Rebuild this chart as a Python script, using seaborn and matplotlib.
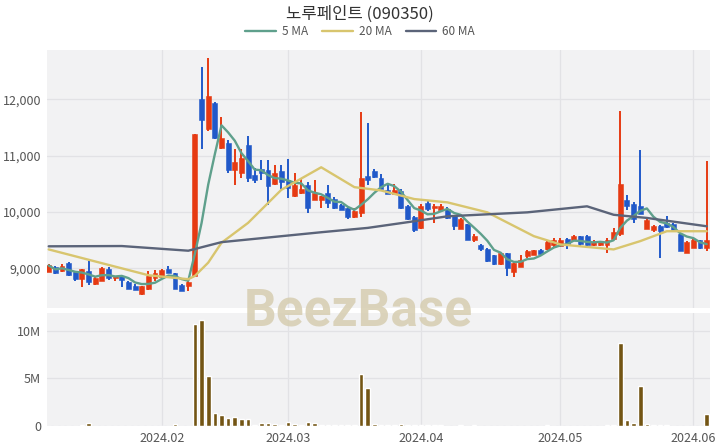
import pandas as pd
import numpy as np
import matplotlib
matplotlib.use('Agg')
import matplotlib.pyplot as plt
import seaborn as sns

# 거래일 (2024-01-09 ~ 2024-06-05, 휴장일 제외)
holidays = ['2024-02-09', '2024-02-12', '2024-03-01', '2024-04-10',
            '2024-05-01', '2024-05-06', '2024-05-15']
dates = pd.bdate_range('2024-01-09', '2024-06-05')
dates = dates[~dates.isin(pd.to_datetime(holidays))]

# 일봉 (시가, 고가, 저가, 종가)
opens = [8940, 9030, 8950, 9100, 8940, 8810, 8950, 8720, 8780, 8990,
         8820, 8860, 8750, 8690, 8540, 8630, 8820, 8840, 8990, 8910,
         8710, 8680, 8865, 12010, 11480, 11930, 11130, 11220, 10750, 10690,
         11190, 10660, 10760, 10750, 10490, 10730, 10570, 10275, 10335, 10480,
         10220, 10220, 10335, 10230, 10130, 10070, 9910, 9980, 10640, 10735,
         10610, 10390, 10320, 10380, 10100, 9910, 9720, 10160, 10070, 10030,
         10050, 9920, 9700, 9780, 9510, 9420, 9335, 9235, 9070, 9264,
         8930, 9030, 9220, 9240, 9317, 9335, 9406, 9394, 9523, 9500,
         9570, 9580, 9406, 9406, 9406, 9515, 9600, 10217, 10146, 10111,
         9700, 9688, 9759, 9806, 9794, 9617, 9276, 9365, 9500, 9365]
highs = [9070, 9040, 9080, 9110, 8950, 8990, 9130, 8870, 9030, 9030,
         8870, 8870, 8780, 8720, 8690, 8950, 8970, 8980, 9040, 8920,
         8720, 8780, 11390, 12570, 12730, 11950, 11690, 11280, 11110, 11110,
         11340, 10780, 10920, 10920, 10830, 10840, 10940, 10700, 10600, 10540,
         10570, 10290, 10480, 10260, 10140, 10100, 10070, 11775, 11580, 10760,
         10670, 10510, 10500, 10410, 10130, 9920, 10150, 10220, 10150, 10150,
         10080, 9930, 9900, 9790, 9610, 9430, 9360, 9240, 9270, 9270,
         9130, 9230, 9320, 9330, 9350, 9510, 9530, 9530, 9530, 9590,
         9580, 9590, 9500, 9480, 9540, 9720, 11800, 10305, 10170, 11100,
         9911, 9770, 9770, 9935, 9800, 9630, 9480, 9520, 9510, 10910]
lows = [8930, 8900, 8940, 8860, 8780, 8670, 8700, 8710, 8770, 8800,
        8770, 8660, 8630, 8610, 8520, 8620, 8780, 8830, 8910, 8630,
        8590, 8600, 8860, 11110, 11440, 11300, 11120, 10690, 10480, 10600,
        10540, 10520, 10570, 10130, 10470, 10400, 10250, 10260, 10320, 9990,
        10210, 10070, 10070, 10060, 10030, 9880, 9900, 9910, 10480, 10600,
        10390, 10310, 10310, 10050, 9860, 9650, 9700, 10020, 9800, 10000,
        9880, 9680, 9690, 9500, 9460, 9300, 9120, 9060, 9060, 8860,
        8850, 9020, 9190, 9230, 9220, 9330, 9380, 9380, 9335, 9490,
        9400, 9400, 9400, 9400, 9264, 9505, 9580, 10041, 9806, 9960,
        9690, 9640, 9188, 9720, 9640, 9300, 9270, 9355, 9340, 9306]
closes = [9050, 8910, 9040, 8880, 8810, 8980, 8750, 8835, 9010, 8820,
          8860, 8800, 8640, 8620, 8680, 8870, 8910, 8970, 8920, 8640,
          8600, 8765, 11380, 11630, 12050, 11310, 11320, 10750, 10890, 10950,
          10600, 10570, 10690, 10460, 10690, 10540, 10420, 10480, 10405, 10070,
          10335, 10276, 10160, 10070, 10040, 9910, 10010, 10600, 10560, 10620,
          10400, 10320, 10390, 10070, 9880, 9680, 10110, 10050, 10110, 10110,
          9890, 9750, 9880, 9510, 9580, 9340, 9130, 9070, 9264, 9000,
          9100, 9145, 9306, 9317, 9260, 9464, 9494, 9500, 9423, 9570,
          9440, 9406, 9464, 9470, 9505, 9645, 10500, 10111, 9877, 9970,
          9853, 9759, 9658, 9735, 9658, 9306, 9464, 9511, 9365, 9500]

# 거래량 (백만 주)
volume_m = [0.03, 0.02, 0.03, 0.05, 0.04, 0.15, 0.3, 0.04, 0.05, 0.03,
            0.02, 0.04, 0.03, 0.03, 0.04, 0.05, 0.03, 0.03, 0.05, 0.2,
            0.05, 0.05, 10.7, 11.1, 5.2, 1.4, 1.15, 0.8, 0.98, 0.72,
            0.72, 0.15, 0.35, 0.28, 0.22, 0.15, 0.42, 0.22, 0.15, 0.42,
            0.35, 0.15, 0.08, 0.06, 0.07, 0.1, 0.08, 5.45, 3.95, 0.22,
            0.12, 0.12, 0.08, 0.18, 0.08, 0.08, 0.06, 0.06, 0.12, 0.06,
            0.05, 0.05, 0.06, 0.05, 0.15, 0.05, 0.05, 0.04, 0.05, 0.05,
            0.04, 0.04, 0.05, 0.04, 0.05, 0.06, 0.05, 0.04, 0.04, 0.05,
            0.04, 0.04, 0.04, 0.05, 0.06, 0.08, 8.7, 0.6, 0.3, 4.2,
            0.22, 0.08, 0.15, 0.06, 0.05, 0.05, 0.05, 0.05, 0.05, 1.22]

# 이동평균선 (그림에서 읽은 꺾임점)
ma20_idx = [0, 15, 21, 22, 24, 26, 30, 35, 41, 46, 50, 55, 60, 66, 73, 77, 85, 89, 93, 99]
ma20_val = [9335, 8877, 8806, 8865, 9100, 9453, 9806, 10393, 10793, 10440,
            10382, 10229, 10170, 9993, 9570, 9423, 9335, 9482, 9658, 9658]
ma60_idx = [0, 11, 21, 26, 41, 48, 55, 60, 72, 81, 85, 90, 99]
ma60_val = [9390, 9395, 9312, 9464, 9640, 9717, 9835, 9923, 9993, 10100, 9950, 9894, 9746]

tick_labels = ['2024.02', '2024.03', '2024.04', '2024.05', '2024.06']

UP = '#e63a12'
DOWN = '#2159c9'
C5 = '#5fa08c'
C20 = '#d8c56e'
C60 = '#5b6479'
VOL = '#735514'
BG = '#f2f2f3'
GRID = '#e2e2e5'

sns.set_theme(style='white')
plt.rcParams['font.family'] = ['Noto Sans CJK KR', 'DejaVu Sans']

df = pd.DataFrame({'date': dates, 'open': opens, 'high': highs, 'low': lows,
                   'close': closes, 'volume': np.array(volume_m) * 1e6})
df['idx'] = np.arange(len(df))
df['ma5'] = df['close'].rolling(5, min_periods=1).mean()
df['up'] = df['close'] >= df['open']

month = df['date'].dt.to_period('M')
tick_pos = df.groupby(month)['idx'].min().values[1:]

fig = plt.figure(figsize=(7.2, 4.48), dpi=100)
ax = fig.add_axes([46.7 / 720, 1 - 308 / 448, 663.3 / 720, 258 / 448])
axv = fig.add_axes([46.7 / 720, 1 - 426 / 448, 663.3 / 720, 113 / 448])

for a in (ax, axv):
    a.set_facecolor(BG)
    for s in a.spines.values():
        s.set_visible(False)
    a.set_xticks(tick_pos)
    a.grid(True, color=GRID, lw=0.9)
    a.set_axisbelow(True)
    a.tick_params(length=0, labelsize=9, colors='#555555', pad=4)
    a.set_xlim(-0.3, 99.5)

# 캔들
cols = np.where(df['up'], UP, DOWN)
ax.vlines(df['idx'], df['low'], df['high'], colors=cols, lw=1.4, zorder=2)
body_lo = df[['open', 'close']].min(axis=1)
body_h = (df['close'] - df['open']).abs()
ax.bar(df['idx'], body_h, bottom=body_lo, width=0.74, color=cols,
       edgecolor=cols, linewidth=0.4, zorder=2)

# 이동평균
sns.lineplot(x=df['idx'], y=df['ma5'], ax=ax, color=C5, lw=1.7, label='5 MA', zorder=3)
sns.lineplot(x=ma20_idx, y=ma20_val, ax=ax, color=C20, lw=1.7, label='20 MA', zorder=3)
sns.lineplot(x=ma60_idx, y=ma60_val, ax=ax, color=C60, lw=1.7, label='60 MA', zorder=3)

ax.set_ylim(8295, 12875)
ax.set_yticks([9000, 10000, 11000, 12000])
ax.set_yticklabels(['9,000', '10,000', '11,000', '12,000'])
ax.set_xticklabels([])
ax.set_xlabel('')
ax.set_ylabel('')
handles, labels = ax.get_legend_handles_labels()
ax.get_legend().remove()

# 거래량
sns.barplot(x='idx', y='volume', data=df, ax=axv, native_scale=True,
            color=VOL, width=0.7, saturation=1, zorder=2)
axv.set_xlim(-0.3, 99.5)
axv.set_ylim(0, 11.86e6)
axv.set_yticks([0, 5e6, 10e6])
axv.set_yticklabels(['0', '5M', '10M'])
axv.set_xticks(tick_pos)
axv.set_xticklabels(tick_labels)
axv.set_xlabel('')
axv.set_ylabel('')

fig.text(0.5, 0.968, '노루페인트 (090350)', ha='center', va='center',
         fontsize=12, color='#333333', fontweight='light')
fig.legend(handles, labels, loc='center', bbox_to_anchor=(0.5, 0.929), ncol=3,
           frameon=False, fontsize=8.5, handlelength=2.6, handletextpad=0.5,
           columnspacing=1.2, labelcolor='#555555')

fig.text(358 / 720, 1 - 311 / 448, 'BeezBase', ha='center', va='center',
         fontsize=37, fontweight='bold', family=['Roboto', 'DejaVu Sans'],
         color='#d6cdb0', alpha=0.85, zorder=10)

fig.savefig('out.png', dpi=100, facecolor='white')
